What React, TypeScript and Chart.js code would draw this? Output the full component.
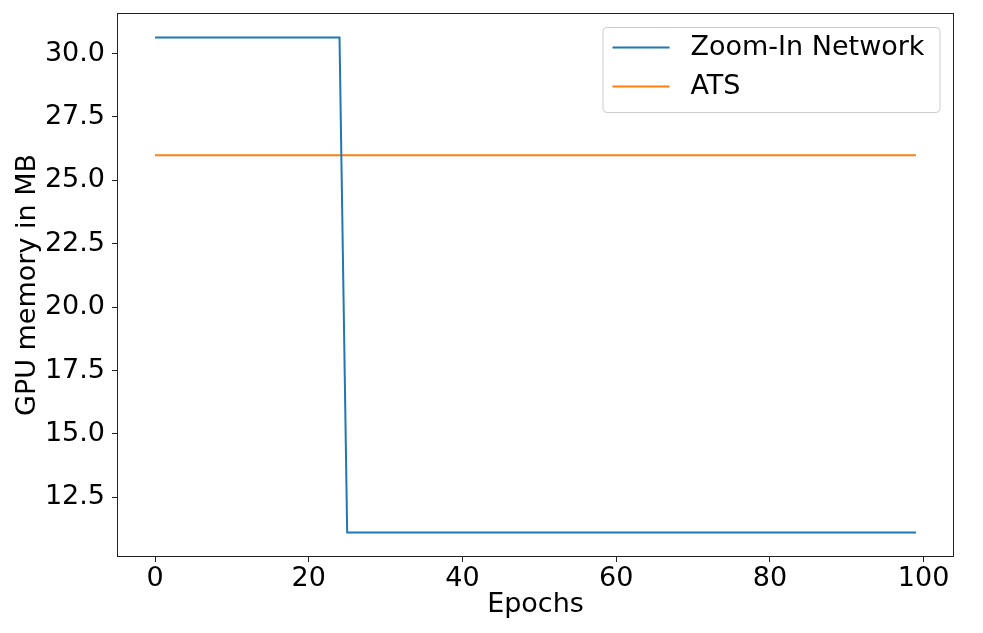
import React, { useEffect, useRef } from "react";
import { Chart, registerables } from "chart.js";

Chart.register(...registerables);

// Data (step change at epoch 24 -> 25)
const zoomInEpochs = [0, 24, 25, 99];
const zoomInMemory = [30.63, 30.63, 11.12, 11.12];
const atsEpochs = [0, 99];
const atsMemory = [25.99, 25.99];

const seriesLabels = ["Zoom-In Network", "ATS"];
const seriesColors = ["#1f77b4", "#ff7f0e"];

const xTicks = [0, 20, 40, 60, 80, 100];
const yTicks = [12.5, 15.0, 17.5, 20.0, 22.5, 25.0, 27.5, 30.0];

const xTitle = "Epochs";
const yTitle = "GPU memory in MB";

const FONT = "'DejaVu Sans', sans-serif";
const FS = 27;

const framePlugin = {
  id: "frame",
  afterDatasetsDraw(chart: any) {
    const { ctx, chartArea } = chart;
    ctx.save();
    ctx.strokeStyle = "#222";
    ctx.lineWidth = 1;
    ctx.strokeRect(
      Math.round(chartArea.left) + 0.5,
      Math.round(chartArea.top) + 0.5,
      Math.round(chartArea.right - chartArea.left) - 1,
      Math.round(chartArea.bottom - chartArea.top) - 1
    );
    ctx.restore();
  },
};

const legendPlugin = {
  id: "mplLegend",
  afterDraw(chart: any) {
    const { ctx, chartArea } = chart;
    const datasets = chart.data.datasets;
    const boxW = 337;
    const boxRight = chartArea.right - 14;
    const boxLeft = boxRight - boxW;
    const boxTop = chartArea.top + 14.5;
    const boxH = 85;
    const r = 4;
    ctx.save();
    ctx.beginPath();
    ctx.moveTo(boxLeft + r, boxTop);
    ctx.lineTo(boxLeft + boxW - r, boxTop);
    ctx.quadraticCurveTo(boxLeft + boxW, boxTop, boxLeft + boxW, boxTop + r);
    ctx.lineTo(boxLeft + boxW, boxTop + boxH - r);
    ctx.quadraticCurveTo(boxLeft + boxW, boxTop + boxH, boxLeft + boxW - r, boxTop + boxH);
    ctx.lineTo(boxLeft + r, boxTop + boxH);
    ctx.quadraticCurveTo(boxLeft, boxTop + boxH, boxLeft, boxTop + boxH - r);
    ctx.lineTo(boxLeft, boxTop + r);
    ctx.quadraticCurveTo(boxLeft, boxTop, boxLeft + r, boxTop);
    ctx.closePath();
    ctx.fillStyle = "rgba(255,255,255,0.8)";
    ctx.fill();
    ctx.strokeStyle = "#cccccc";
    ctx.lineWidth = 1;
    ctx.stroke();

    ctx.font = `${FS}px ${FONT}`;
    ctx.textBaseline = "middle";
    ctx.textAlign = "left";
    datasets.forEach((ds: any, i: number) => {
      const y = boxTop + 20 + i * 39;
      ctx.beginPath();
      ctx.moveTo(boxLeft + 9.5, y);
      ctx.lineTo(boxLeft + 66.5, y);
      ctx.strokeStyle = ds.borderColor;
      ctx.lineWidth = 2;
      ctx.stroke();
      ctx.fillStyle = "#000";
      ctx.fillText(ds.label, boxLeft + 87.5, y);
    });
    ctx.restore();
  },
};

export default function App() {
  const canvasRef = useRef<HTMLCanvasElement | null>(null);

  useEffect(() => {
    if (!canvasRef.current) return;
    const chart = new Chart(canvasRef.current, {
      type: "line",
      data: {
        datasets: [
          {
            label: seriesLabels[0],
            data: zoomInEpochs.map((x, i) => ({ x, y: zoomInMemory[i] })),
            borderColor: seriesColors[0],
            backgroundColor: seriesColors[0],
            borderWidth: 2,
            pointRadius: 0,
            tension: 0,
            fill: false,
          },
          {
            label: seriesLabels[1],
            data: atsEpochs.map((x, i) => ({ x, y: atsMemory[i] })),
            borderColor: seriesColors[1],
            backgroundColor: seriesColors[1],
            borderWidth: 2,
            pointRadius: 0,
            tension: 0,
            fill: false,
          },
        ],
      },
      options: {
        animation: false,
        responsive: false,
        devicePixelRatio: 1,
        layout: { padding: { top: 0, right: 0, left: 0, bottom: 0 } },
        plugins: {
          legend: { display: false },
          tooltip: { enabled: false },
        },
        scales: {
          x: {
            type: "linear",
            min: -4.95,
            max: 103.95,
            afterBuildTicks: (scale: any) => {
              scale.ticks = xTicks.map((v) => ({ value: v }));
            },
            afterFit: (scale: any) => {
              scale.height = 76;
              scale.paddingRight = 29;
              scale.paddingLeft = 0;
            },
            ticks: {
              font: { family: FONT, size: FS },
              color: "#000",
              padding: 1,
              maxRotation: 0,
              autoSkip: false,
              callback: (v: any) => String(v),
            },
            grid: {
              display: true,
              drawOnChartArea: false,
              drawTicks: true,
              tickLength: 5,
              tickColor: "#222",
            },
            border: { display: false },
            title: {
              display: true,
              text: xTitle,
              font: { family: FONT, size: FS },
              color: "#000",
              padding: { top: 0, bottom: 12 },
            },
          },
          y: {
            type: "linear",
            min: 10.15,
            max: 31.6,
            afterBuildTicks: (scale: any) => {
              scale.ticks = yTicks.map((v) => ({ value: v }));
            },
            afterFit: (scale: any) => {
              scale.width = 117;
              scale.paddingTop = 13;
              scale.paddingBottom = 0;
            },
            ticks: {
              font: { family: FONT, size: FS },
              color: "#000",
              padding: 7,
              autoSkip: false,
              callback: (v: any) => Number(v).toFixed(1),
            },
            grid: {
              display: true,
              drawOnChartArea: false,
              drawTicks: true,
              tickLength: 5,
              tickColor: "#222",
            },
            border: { display: false },
            title: {
              display: true,
              text: yTitle,
              font: { family: FONT, size: FS },
              color: "#000",
              padding: { top: 12, bottom: 0 },
            },
          },
        },
      },
      plugins: [framePlugin, legendPlugin],
    });
    return () => chart.destroy();
  }, []);

  return (
    <div
      style={{
        position: "fixed",
        left: 0,
        top: 0,
        width: 983,
        height: 633,
        background: "#fff",
      }}
    >
      <canvas ref={canvasRef} width={983} height={633} style={{ width: 983, height: 633 }} />
    </div>
  );
}
